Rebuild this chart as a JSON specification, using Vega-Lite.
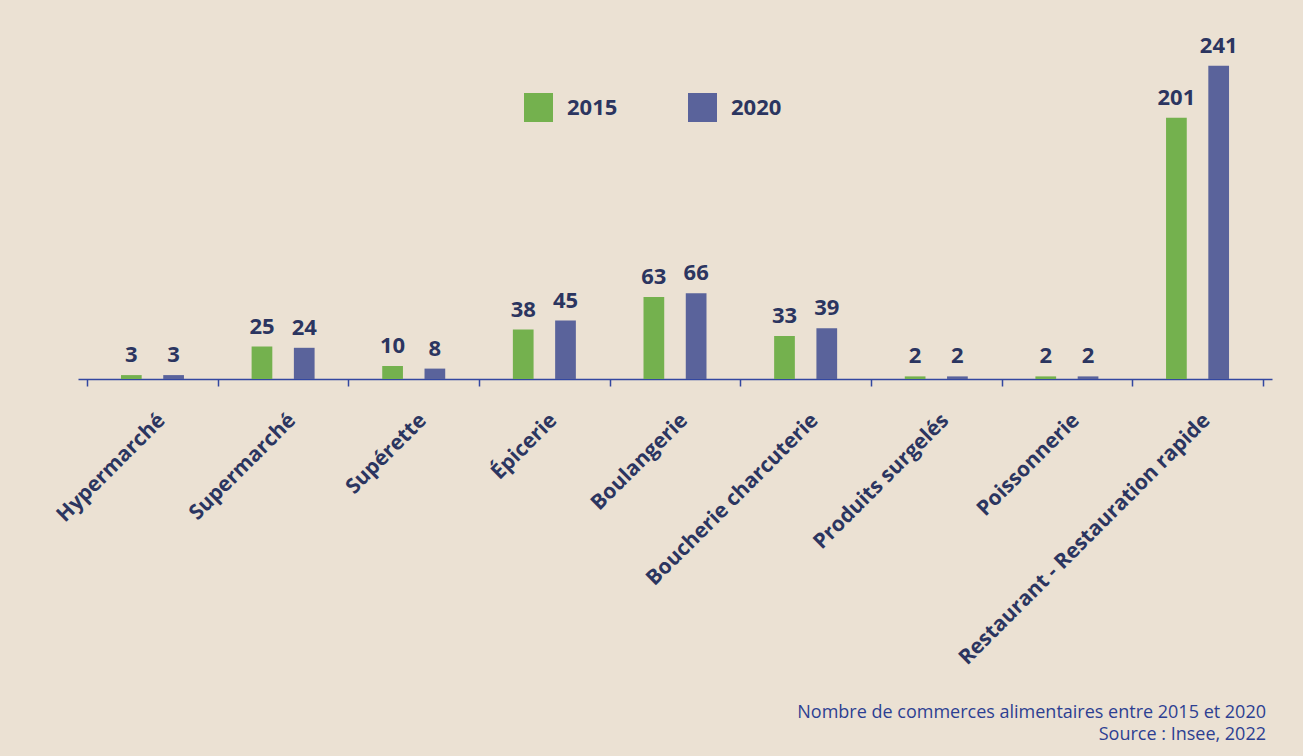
{
  "$schema": "https://vega.github.io/schema/vega-lite/v6.json",
  "autosize": "none",
  "width": 1194,
  "height": 325,
  "padding": {"left": 78, "top": 54, "right": 31, "bottom": 377},
  "background": "#ebe1d3",
  "config": {"view": {"stroke": null}, "font": "Open Sans"},
  "title": {
    "text": ["Nombre de commerces alimentaires entre 2015 et 2020", "Source : Insee, 2022"],
    "orient": "bottom",
    "anchor": "end",
    "align": "right",
    "font": "Open Sans",
    "fontSize": 18,
    "fontWeight": "normal",
    "color": "#2d3f92",
    "lineHeight": 22,
    "offset": 36,
    "dx": -6
  },
  "data": {
    "values": [
      {"cat": "Hypermarché", "year": "2015", "value": 3},
      {"cat": "Hypermarché", "year": "2020", "value": 3},
      {"cat": "Supermarché", "year": "2015", "value": 25},
      {"cat": "Supermarché", "year": "2020", "value": 24},
      {"cat": "Supérette", "year": "2015", "value": 10},
      {"cat": "Supérette", "year": "2020", "value": 8},
      {"cat": "Épicerie", "year": "2015", "value": 38},
      {"cat": "Épicerie", "year": "2020", "value": 45},
      {"cat": "Boulangerie", "year": "2015", "value": 63},
      {"cat": "Boulangerie", "year": "2020", "value": 66},
      {"cat": "Boucherie charcuterie", "year": "2015", "value": 33},
      {"cat": "Boucherie charcuterie", "year": "2020", "value": 39},
      {"cat": "Produits surgelés", "year": "2015", "value": 2},
      {"cat": "Produits surgelés", "year": "2020", "value": 2},
      {"cat": "Poissonnerie", "year": "2015", "value": 2},
      {"cat": "Poissonnerie", "year": "2020", "value": 2},
      {"cat": "Restaurant - Restauration rapide", "year": "2015", "value": 201},
      {"cat": "Restaurant - Restauration rapide", "year": "2020", "value": 241}
    ]
  },
  "encoding": {
    "x": {
      "field": "cat",
      "type": "nominal",
      "sort": null,
      "scale": {"paddingInner": 0, "paddingOuter": 0.07},
      "axis": {
        "title": null,
        "labelAngle": -45,
        "labelAlign": "right",
        "labelBaseline": "middle",
        "labelFont": "Open Sans",
        "labelFontSize": 21,
        "labelFontWeight": "bold",
        "labelColor": "#2b3560",
        "labelPadding": 31,
        "labelOffset": 9,
        "labelLimit": 0,
        "domainColor": "#3347a0",
        "domainWidth": 1.5,
        "tickColor": "#3347a0",
        "tickWidth": 1.5,
        "tickSize": 7,
        "tickBand": "extent"
      }
    },
    "xOffset": {
      "field": "year",
      "type": "nominal",
      "scale": {"paddingInner": 0.51, "paddingOuter": 0.8}
    },
    "y": {
      "field": "value",
      "type": "quantitative",
      "scale": {"domain": [0, 250]},
      "axis": null
    }
  },
  "layer": [
    {
      "mark": {"type": "bar"},
      "encoding": {
        "color": {
          "field": "year",
          "type": "nominal",
          "scale": {"domain": ["2015", "2020"], "range": ["#74b14e", "#5a639b"]},
          "legend": {
            "title": null,
            "orient": "none",
            "direction": "horizontal",
            "legendX": 446,
            "legendY": 39,
            "symbolType": "square",
            "symbolSize": 841,
            "symbolStrokeWidth": 0,
            "symbolOpacity": 1,
            "labelFont": "Open Sans",
            "labelFontSize": 22,
            "labelFontWeight": "bold",
            "labelColor": "#2b3560",
            "labelOffset": 14,
            "columnPadding": 70
          }
        }
      }
    },
    {
      "mark": {
        "type": "text",
        "baseline": "alphabetic",
        "dy": -13,
        "font": "Open Sans",
        "fontSize": 22,
        "fontWeight": "bold",
        "color": "#2b3560"
      },
      "encoding": {
        "text": {"field": "value", "type": "quantitative"}
      }
    }
  ]
}
